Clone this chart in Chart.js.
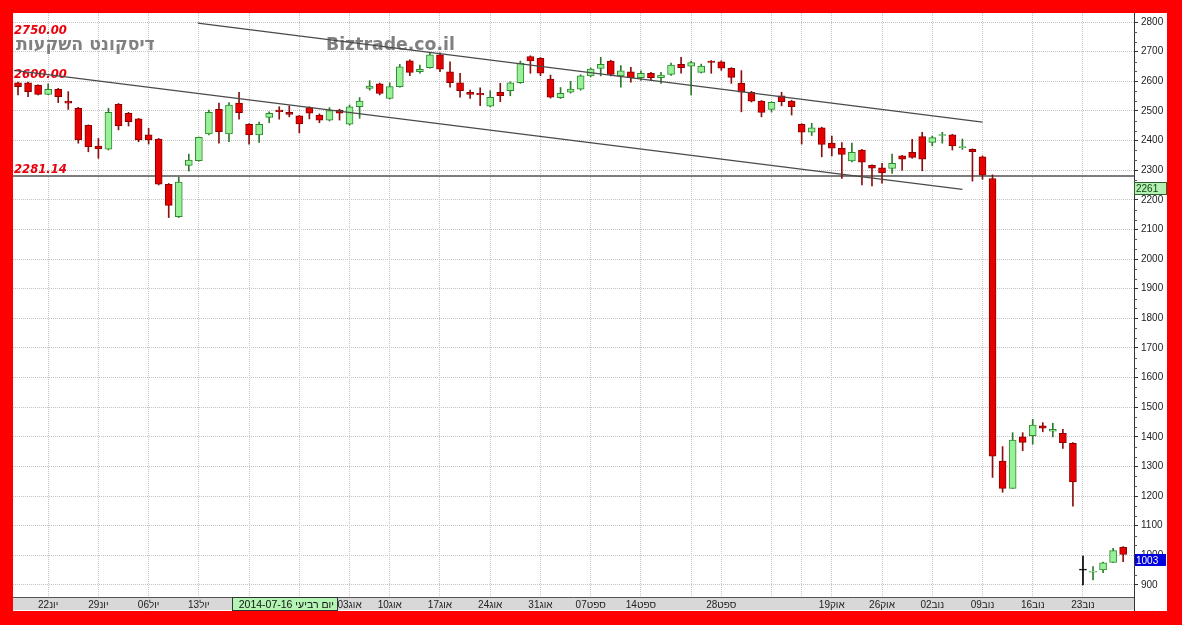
<!DOCTYPE html>
<html>
<head>
<meta charset="utf-8">
<script src="https://cdn.jsdelivr.net/npm/chart.js@4.4.0/dist/chart.umd.min.js"></script>
<style>
    html, body { margin: 0; padding: 0; width: 1182px; height: 625px; overflow: hidden; background: #ff0000; }
    #wrap { position: absolute; left: 13px; top: 13px; width: 1154px; height: 598px; background: #fff; }
</style>
</head>
<body>
<div id="wrap"><canvas id="chart" width="1154" height="598"></canvas></div>
<script>
// daily candles, 17 Jun 2014 .. 27 Nov 2014 (trading days only)
const opens = [2595, 2595, 2587, 2556, 2573, 2533, 2509, 2451, 2381, 2371,
    2522, 2492, 2473, 2419, 2405, 2252, 2143, 2316, 2332, 2422,
    2505, 2422, 2526, 2455, 2419, 2478, 2503, 2495, 2483, 2511,
    2486, 2469, 2503, 2455, 2514, 2576, 2591, 2542, 2582, 2669,
    2632, 2646, 2689, 2632, 2595, 2563, 2559, 2516, 2563, 2568,
    2595, 2683, 2677, 2607, 2545, 2563, 2573, 2618, 2643, 2668,
    2618, 2632, 2612, 2627, 2612, 2623, 2657, 2651, 2630, 2668,
    2666, 2644, 2593, 2563, 2533, 2505, 2551, 2533, 2455, 2428,
    2443, 2391, 2374, 2331, 2368, 2316, 2308, 2306, 2348, 2360,
    2413, 2394, 2417, 2419, 2376, 2370, 2345, 2272, 1318, 1226,
    1400, 1404, 1437, 1419, 1412, 1378, 950, 943, 951, 976, 1027];
const highs = [2597, 2597, 2588, 2591, 2576, 2565, 2512, 2453, 2407, 2509,
    2525, 2495, 2475, 2441, 2407, 2255, 2276, 2354, 2412, 2503,
    2526, 2528, 2563, 2457, 2462, 2497, 2514, 2517, 2485, 2514,
    2490, 2511, 2506, 2520, 2545, 2602, 2594, 2595, 2657, 2672,
    2655, 2694, 2696, 2666, 2627, 2570, 2578, 2568, 2593, 2598,
    2668, 2686, 2680, 2621, 2579, 2600, 2622, 2645, 2681, 2671,
    2653, 2647, 2635, 2630, 2630, 2661, 2681, 2668, 2658, 2670,
    2669, 2646, 2636, 2566, 2535, 2531, 2563, 2536, 2457, 2458,
    2445, 2415, 2393, 2391, 2370, 2318, 2323, 2354, 2350, 2404,
    2428, 2415, 2428, 2421, 2405, 2372, 2348, 2284, 1367, 1414,
    1414, 1459, 1448, 1446, 1425, 1381, 998, 962, 977, 1024, 1030];
const lows = [2554, 2548, 2554, 2555, 2528, 2505, 2391, 2362, 2340, 2368,
    2436, 2449, 2396, 2388, 2250, 2140, 2140, 2297, 2330, 2419,
    2391, 2396, 2472, 2388, 2394, 2460, 2472, 2480, 2426, 2473,
    2460, 2466, 2469, 2452, 2475, 2570, 2554, 2540, 2580, 2619,
    2627, 2644, 2632, 2580, 2546, 2542, 2518, 2514, 2531, 2551,
    2593, 2627, 2619, 2543, 2542, 2560, 2570, 2615, 2618, 2618,
    2580, 2597, 2603, 2604, 2593, 2620, 2627, 2554, 2628, 2627,
    2637, 2593, 2497, 2530, 2480, 2496, 2517, 2486, 2388, 2417,
    2345, 2348, 2272, 2328, 2250, 2247, 2256, 2289, 2300, 2340,
    2298, 2382, 2391, 2368, 2370, 2263, 2269, 1263, 1213, 1226,
    1353, 1375, 1417, 1400, 1361, 1166, 900, 917, 942, 975, 979];
const closes = [2582, 2565, 2556, 2573, 2548, 2526, 2402, 2379, 2372, 2495,
    2449, 2464, 2402, 2402, 2253, 2181, 2260, 2334, 2411, 2495,
    2430, 2520, 2494, 2419, 2455, 2492, 2497, 2488, 2456, 2492,
    2469, 2501, 2492, 2514, 2533, 2584, 2559, 2582, 2649, 2630,
    2640, 2689, 2641, 2595, 2568, 2556, 2554, 2546, 2551, 2595,
    2661, 2669, 2627, 2546, 2559, 2574, 2618, 2641, 2657, 2623,
    2635, 2612, 2627, 2612, 2621, 2655, 2646, 2663, 2651, 2664,
    2644, 2613, 2563, 2533, 2495, 2529, 2531, 2514, 2428, 2443,
    2387, 2374, 2353, 2360, 2327, 2307, 2291, 2323, 2337, 2343,
    2337, 2410, 2420, 2382, 2379, 2362, 2283, 1335, 1226, 1389,
    1381, 1440, 1429, 1425, 1380, 1248, 950, 947, 975, 1016, 1003];

// week starts (index of the Sunday candle) and their labels
const weekTickIdx = [3, 8, 13, 18, 23, 28, 33, 37, 42, 47, 52, 57, 62, 67, 70, 75, 78, 81, 86, 91, 96, 101, 106];
const weekTickLabels = ["22יונ", "29יונ", "06יול", "13יול", "20יול", "27יול", "03אוג", "10אוג", "17אוג", "24אוג",
    "31אוג", "07ספט", "14ספט", "", "28ספט", "", "", "19אוק", "26אוק", "02נוב", "09נוב", "16נוב", "23נוב"];

const yTicks = [900, 1000, 1100, 1200, 1300, 1400, 1500, 1600, 1700, 1800, 1900,
    2000, 2100, 2200, 2300, 2400, 2500, 2600, 2700, 2800];

// trend lines (candle index, price)
const upperTrendX = [17.9, 96.0];
const upperTrendY = [2796, 2462];
const lowerTrendX = [-0.4, 94.0];
const lowerTrendY = [2637, 2235];

const levelValues = [2750, 2600, 2281.14];
const levelLabels = ["2750.00", "2600.00", "2281.14"];
const levelHasLine = [false, false, true];

const cursorIdx = 21;
const cursorDate = "יום רביעי 2014-07-16";
const cursorPrice = 2261;
const lastPrice = 1003;

const chartTitle = "דיסקונט השקעות";
const watermark = "Biztrade.co.il";

function candleColor(i, up, down, flat) {
    if (closes[i] > opens[i]) return up;
    if (closes[i] < opens[i]) return down;
    return flat;
}

let idx = opens.map((_, i) => i);
let bodyData = idx.map(i => ({ x: i, y: [Math.min(opens[i], closes[i]), Math.max(opens[i], closes[i])] }));
let wickData = idx.map(i => ({ x: i, y: [lows[i], highs[i]] }));

function fitFont(ctx, text, weight, family, targetW) {
    ctx.font = weight + " 20px " + family;
    let w = ctx.measureText(text).width;
    return weight + " " + (20 * targetW / w).toFixed(2) + "px " + family;
}

const decorPlugin = {
    id: "decor",
    beforeDraw(chart) {
        let ctx = chart.ctx;
        let a = chart.chartArea;
        ctx.save();
        ctx.fillStyle = "#d8d8d8";
        ctx.fillRect(a.left, a.bottom, a.right - a.left, 13);
        ctx.restore();
    },
    beforeDatasetsDraw(chart) {
        let ctx = chart.ctx;
        let a = chart.chartArea;
        let y = chart.scales.y;
        ctx.save();

        // title + watermark
        ctx.fillStyle = "#808080";
        ctx.textBaseline = "alphabetic";
        ctx.textAlign = "left";
        ctx.font = fitFont(ctx, chartTitle, "bold", '"DejaVu Sans"', 139);
        ctx.fillText(chartTitle, 3, 37);
        ctx.font = fitFont(ctx, watermark, "bold", '"DejaVu Sans"', 129);
        ctx.fillText(watermark, 313, 37);

        // level lines and labels
        levelValues.forEach((v, k) => {
            let py = Math.round(y.getPixelForValue(v));
            if (levelHasLine[k]) {
                ctx.strokeStyle = "#7c7c7c";
                ctx.lineWidth = 2;
                ctx.beginPath();
                ctx.moveTo(a.left, py);
                ctx.lineTo(a.right, py);
                ctx.stroke();
            }
            ctx.fillStyle = "#e8000a";
            ctx.font = fitFont(ctx, levelLabels[k], "italic bold", '"DejaVu Sans"', 53);
            ctx.fillText(levelLabels[k], a.left + 1, py - 3);
        });
        ctx.restore();
    },
    afterDraw(chart) {
        let ctx = chart.ctx;
        let a = chart.chartArea;
        let x = chart.scales.x;
        let y = chart.scales.y;
        ctx.save();

        // axis lines
        ctx.strokeStyle = "#555";
        ctx.lineWidth = 1;
        ctx.beginPath();
        ctx.moveTo(a.left, a.bottom + 0.5);
        ctx.lineTo(a.right, a.bottom + 0.5);
        ctx.stroke();
        ctx.strokeStyle = "#333";
        ctx.beginPath();
        ctx.moveTo(a.right + 0.5, 0);
        ctx.lineTo(a.right + 0.5, chart.height);
        ctx.stroke();

        // minor ticks between the labelled ones
        ctx.strokeStyle = "#555";
        ctx.beginPath();
        for (let k = 0; k < yTicks.length; k++) {
            for (let m = 1; m < 3; m++) {
                let py = Math.round(y.getPixelForValue(yTicks[k] + m * 100 / 3)) + 0.5;
                if (py < a.top) continue;
                ctx.moveTo(a.right, py);
                ctx.lineTo(a.right + 3, py);
            }
        }
        ctx.stroke();

        ctx.font = '10px "Liberation Sans"';
        ctx.textBaseline = "middle";
        ctx.textAlign = "left";

        // cursor price tag
        let cy = Math.round(y.getPixelForValue(cursorPrice));
        ctx.fillStyle = "#b4f0b4";
        ctx.fillRect(a.right + 1, cy, 32, 12);
        ctx.strokeStyle = "#2f5f2f";
        ctx.strokeRect(a.right + 0.5, cy + 0.5, 32, 12);
        ctx.fillStyle = "#114411";
        ctx.fillText(String(cursorPrice), a.right + 2, cy + 7);

        // last price tag
        let ly = Math.round(y.getPixelForValue(lastPrice));
        ctx.fillStyle = "#0000dd";
        ctx.fillRect(a.right + 1, ly, 31, 12);
        ctx.fillStyle = "#ffffff";
        ctx.fillText(String(lastPrice), a.right + 2, ly + 7);

        // cursor date box on the x axis
        ctx.font = '10.5px "Liberation Sans"';
        let bx = Math.round(x.getPixelForValue(cursorIdx)) + 3;
        let tw = ctx.measureText(cursorDate).width;
        let bw = Math.round(tw + 10);
        ctx.fillStyle = "#b4f4b4";
        ctx.fillRect(bx, a.bottom + 1, bw, 12);
        ctx.strokeStyle = "#333";
        ctx.strokeRect(bx + 0.5, a.bottom + 0.5, bw, 13);
        ctx.fillStyle = "#111";
        ctx.direction = "rtl";
        ctx.textAlign = "right";
        ctx.fillText(cursorDate, bx + bw - 3, a.bottom + 8);
        ctx.restore();
    }
};

new Chart(document.getElementById("chart"), {
    type: "bar",
    data: {
        datasets: [
            {
                type: "line",
                data: upperTrendX.map((v, k) => ({ x: v, y: upperTrendY[k] })),
                borderColor: "#4a4a4a",
                borderWidth: 1.2,
                pointRadius: 0,
                order: 0
            },
            {
                type: "line",
                data: lowerTrendX.map((v, k) => ({ x: v, y: lowerTrendY[k] })),
                borderColor: "#4a4a4a",
                borderWidth: 1.2,
                pointRadius: 0,
                order: 0
            },
            {
                data: bodyData,
                backgroundColor: idx.map(i => candleColor(i, "#98f098", "#e60000", "#000")),
                borderColor: idx.map(i => candleColor(i, "#2c8a2c", "#8a0000", "#000")),
                borderWidth: 1,
                borderSkipped: false,
                barThickness: 7,
                minBarLength: 1,
                grouped: false,
                order: 1
            },
            {
                data: wickData,
                backgroundColor: idx.map(i => candleColor(i, "#2c7a2c", "#8a1010", "#000")),
                borderWidth: 0,
                barThickness: 1,
                grouped: false,
                order: 2
            }
        ]
    },
    options: {
        responsive: false,
        devicePixelRatio: 1,
        animation: false,
        layout: { padding: 0, autoPadding: false },
        plugins: { legend: { display: false }, tooltip: { enabled: false } },
        scales: {
            x: {
                type: "linear",
                min: -0.5,
                max: 111.08,
                offset: false,
                afterBuildTicks: s => { s.ticks = weekTickIdx.map(v => ({ value: v })); },
                afterFit: s => { s.height = 14; s.paddingLeft = 0; s.paddingRight = 0; },
                grid: { color: "#c4c4c4", drawTicks: false, offset: false },
                border: { display: false, dash: [1, 1] },
                ticks: {
                    autoSkip: false,
                    maxRotation: 0,
                    padding: 2,
                    color: "#222",
                    font: { family: "Liberation Sans", size: 10 },
                    callback: v => {
                        let k = weekTickIdx.indexOf(v);
                        return k >= 0 && weekTickLabels[k] ? "\u200E" + weekTickLabels[k] : "";
                    }
                }
            },
            y: {
                position: "right",
                min: 859.5,
                max: 2830.4,
                afterBuildTicks: s => { s.ticks = yTicks.map(v => ({ value: v })); },
                afterFit: s => { s.width = 33; s.paddingTop = 0; s.paddingBottom = 0; },
                grid: { color: "#c4c4c4", tickLength: 4, tickColor: "#333", tickBorderDash: [] },
                border: { display: false, dash: [1, 1] },
                ticks: {
                    padding: 3,
                    color: "#222",
                    font: { family: "Liberation Sans", size: 10 },
                    callback: v => String(v)
                }
            }
        }
    },
    plugins: [decorPlugin]
});
</script>
</body>
</html>
